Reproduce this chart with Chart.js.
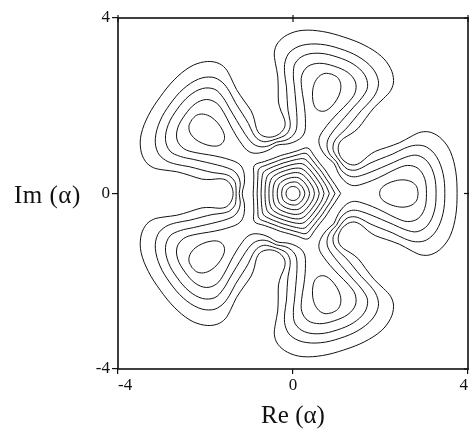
<!DOCTYPE html>
<html>
<head>
<meta charset="utf-8">
<script src="https://cdn.jsdelivr.net/npm/chart.js"></script>
<style>
    html, body { margin: 0; padding: 0; background: #fff; }
    #wrap { position: relative; width: 469px; height: 439px; }
    #im-label {
        position: absolute; left: 14px; top: 181px;
        font-family: 'Liberation Serif', 'Times New Roman', serif;
        font-size: 25px; line-height: 28px; color: #111; white-space: nowrap;
        letter-spacing: 0.5px;
    }
</style>
</head>
<body>
<div id="wrap">
    <canvas id="contour-chart" width="469" height="439"></canvas>
    <div id="im-label">Im (α)</div>
</div>
<script>
// the plot has five equal lobes; each contour is read once for the right lobe
// (upper half, lobe tip -> valley at 36 deg) and repeated round these directions
const lobeAngles = [0, 72, 144, 216, 288];
const axisTicks = [-4, 0, 4];

// contours that run round all five lobes, outermost first
const outer1 = [[3.75, 0], [3.72, 0.50], [3.60, 0.95], [3.40, 1.24], [3.16, 1.39], [2.93, 1.40], [2.70, 1.30], [2.44, 1.16], [2.14, 1.05], [1.88, 0.96], [1.70, 0.84], [1.55, 0.71], [1.40, 0.65], [1.24, 0.69], [1.108, 0.805]];
const outer2 = [[3.47, 0], [3.43, 0.45], [3.28, 0.84], [3.05, 1.06], [2.80, 1.10], [2.55, 1.03], [2.28, 0.90], [2.00, 0.79], [1.76, 0.69], [1.56, 0.58], [1.40, 0.53], [1.24, 0.56], [1.14, 0.65], [1.052, 0.764]];
const outer3 = [[3.27, 0], [3.23, 0.40], [3.08, 0.72], [2.84, 0.87], [2.58, 0.83], [2.30, 0.71], [2.02, 0.59], [1.78, 0.49], [1.56, 0.41], [1.38, 0.38], [1.22, 0.43], [1.09, 0.55], [0.995, 0.723]];
const outer4 = [[3.05, 0], [3.01, 0.34], [2.86, 0.57], [2.62, 0.64], [2.36, 0.56], [2.08, 0.42], [1.82, 0.30], [1.60, 0.22], [1.44, 0.18], [1.30, 0.20], [1.16, 0.30], [1.04, 0.46], [0.938, 0.682]];

// small closed loop round each lobe maximum (upper half, right tip -> left tip)
const lobeLoop = [[2.86, 0], [2.83, 0.15], [2.72, 0.26], [2.54, 0.31], [2.34, 0.29], [2.15, 0.22], [2.02, 0.12], [1.98, 0]];

// rings round the central peak: radius at 0, 12, 24, 36 deg from a lobe axis
const ringAngles = [0, 12, 24, 36];
const centreRings = [
    [0.16, 0.16, 0.16, 0.16],
    [0.27, 0.265, 0.26, 0.26],
    [0.38, 0.37, 0.365, 0.36],
    [0.49, 0.48, 0.465, 0.46],
    [0.60, 0.58, 0.56, 0.55],
    [0.71, 0.68, 0.65, 0.64],
    [0.83, 0.78, 0.74, 0.73],
    [0.96, 0.88, 0.83, 0.82],
    [1.09, 0.98, 0.92, 0.91]
];

document.addEventListener('DOMContentLoaded', function() {
    initContourChart();
});

function rotate(p, deg) {
    const t = deg * Math.PI / 180;
    return { x: p[0] * Math.cos(t) - p[1] * Math.sin(t), y: p[0] * Math.sin(t) + p[1] * Math.cos(t) };
}

function starPath(half) {
    // mirror the half over the lobe axis, then repeat the lobe five times
    const lower = half.slice(1).reverse().map(p => [p[0], -p[1]]);
    const lobe = lower.concat(half);
    const pts = [];
    lobeAngles.forEach((a, k) => {
        lobe.forEach((p, i) => {
            if (k > 0 && i === 0) return;
            pts.push(rotate(p, a));
        });
    });
    return pts;
}

function loopPath(half, deg) {
    const lower = half.slice(1, -1).reverse().map(p => [p[0], -p[1]]);
    return half.concat(lower, [half[0]]).map(p => rotate(p, deg));
}

function ringPath(radii) {
    const pts = [];
    for (let a = 0; a <= 360; a += 12) {
        const m = a % 72;
        const r = radii[ringAngles.indexOf(m <= 36 ? m : 72 - m)];
        pts.push(rotate([r, 0], a));
    }
    return pts;
}

function lineSet(data) {
    return {
        data: data,
        showLine: true,
        borderColor: '#111',
        borderWidth: 1,
        pointRadius: 0,
        tension: 0.35,
        fill: false
    };
}

const framePlugin = {
    id: 'frame',
    afterDatasetsDraw(chart) {
        const { ctx, chartArea: a, scales } = chart;
        ctx.save();
        ctx.strokeStyle = '#111';
        ctx.lineWidth = 1.6;
        ctx.strokeRect(a.left, a.top, a.right - a.left, a.bottom - a.top);
        ctx.lineWidth = 1.2;
        axisTicks.forEach(v => {
            const x = scales.x.getPixelForValue(v);
            ctx.beginPath(); ctx.moveTo(x, a.top - 3); ctx.lineTo(x, a.top + 4); ctx.stroke();
            const y = scales.y.getPixelForValue(v);
            ctx.beginPath(); ctx.moveTo(a.right - 4, y); ctx.lineTo(a.right + 3, y); ctx.stroke();
        });
        ctx.restore();
    }
};

function initContourChart() {
    const ctx = document.getElementById('contour-chart');
    if (!ctx) return;

    const datasets = [];
    [outer1, outer2, outer3, outer4].forEach(half => datasets.push(lineSet(starPath(half))));
    lobeAngles.forEach(a => datasets.push(lineSet(loopPath(lobeLoop, a))));
    centreRings.forEach(r => datasets.push(lineSet(ringPath(r))));

    const serif = "'Liberation Serif', 'Times New Roman', serif";
    const tickGrid = { display: true, drawOnChartArea: false, drawTicks: true, tickLength: 5, color: '#111', lineWidth: 1.2 };

    new Chart(ctx, {
        type: 'scatter',
        data: { datasets: datasets },
        options: {
            responsive: false,
            animation: false,
            layout: { padding: { top: 18, right: 1, left: 0, bottom: 0 } },
            plugins: {
                legend: { display: false },
                tooltip: { enabled: false }
            },
            scales: {
                x: {
                    type: 'linear',
                    min: -4,
                    max: 4,
                    grid: tickGrid,
                    border: { display: false },
                    afterBuildTicks: s => { s.ticks = axisTicks.map(v => ({ value: v })); },
                    ticks: {
                        align: 'inner',
                        padding: 1,
                        color: '#111',
                        font: { family: serif, size: 17 },
                        callback: v => String(v)
                    },
                    title: {
                        display: true,
                        text: 'Re (α)',
                        color: '#111',
                        font: { family: serif, size: 25 },
                        padding: { top: 0, bottom: 8 }
                    },
                    afterFit: s => { s.height = 70; s.paddingLeft = 0; s.paddingRight = 0; }
                },
                y: {
                    type: 'linear',
                    min: -4,
                    max: 4,
                    grid: Object.assign({}, tickGrid, { tickLength: 6 }),
                    border: { display: false },
                    afterBuildTicks: s => { s.ticks = axisTicks.map(v => ({ value: v })); },
                    ticks: {
                        padding: 2,
                        color: '#111',
                        font: { family: serif, size: 17 },
                        callback: v => String(v)
                    },
                    afterFit: s => { s.width = 118; }
                }
            }
        },
        plugins: [framePlugin]
    });
}
</script>
</body>
</html>
